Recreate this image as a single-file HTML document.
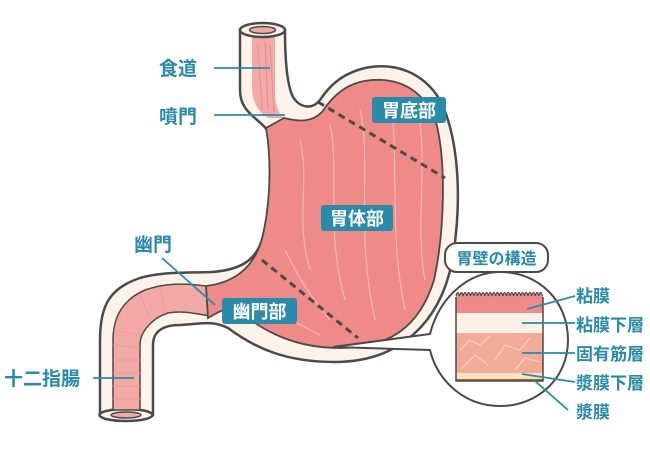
<!DOCTYPE html>
<html><head><meta charset="utf-8"><style>
html,body{margin:0;padding:0;background:#fff;width:650px;height:450px;overflow:hidden}
svg text{font-family:"Liberation Sans","Noto Sans CJK JP",sans-serif;font-weight:bold}
</style></head><body>
<svg width="650" height="450" viewBox="0 0 650 450" xmlns="http://www.w3.org/2000/svg">
<path d="M240,30 L240,90 C240,115 262,118 270,135 C278,155 272,200 262,240 C255,262 238,270 212,272 C180,273 160,272 140,278 C110,288 100,305 100,340 L100,415 L153,415 L153,345 C153,330 165,325 180,325 C200,324 212,320 228,328 C255,348 285,362 335,362 C400,362 440,322 452,262 C462,205 460,140 440,100 C423,72 395,62 365,68 C340,74 328,88 320,100 C312,110 300,108 293,97 C287,85 285,60 285,30 Z" fill="#fdf3ea" stroke="#4a4a4a" stroke-width="2.5"/>
<ellipse cx="126" cy="415" rx="26.5" ry="6" fill="#fdf3ea" stroke="#4a4a4a" stroke-width="2.5"/>
<ellipse cx="126" cy="415" rx="15" ry="3" fill="#f3a8a6" stroke="#4a4a4a" stroke-width="1.5"/>
<path d="M252,37 L275,37 L275,95 C276,110 280,115 284,118 L268,118 C258,112 252,100 252,88 Z" fill="#f2a9a8"/>
<g stroke="#e88a8c" stroke-width="1" fill="none"><path d="M258,45 L262,110"/><path d="M265,42 L268,110"/><path d="M270,45 L274,112"/></g>
<ellipse cx="262.5" cy="30" rx="22.5" ry="7" fill="#fdf3ea" stroke="#4a4a4a" stroke-width="2.5"/>
<ellipse cx="262.5" cy="30" rx="13" ry="3.5" fill="#f3a8a6" stroke="#4a4a4a" stroke-width="1.5"/>
<path d="M206,286 C185,283 165,283 145,290 C122,300 113,318 113,340 L113,410 L140,410 L140,345 C140,332 152,318 168,313 C185,310 200,315 212,316 Z" fill="#f3aaa7" stroke="#4a4a4a" stroke-width="1.5"/>
<g stroke="#ec9a9a" stroke-width="1" fill="none">
<path d="M114,330 L140,335"/><path d="M113,345 L140,348"/><path d="M113,360 L140,360"/><path d="M113,373 L140,373"/><path d="M113,386 L140,386"/><path d="M113,399 L140,399"/><path d="M140,295 L150,318"/><path d="M160,288 L165,312"/></g>
<path d="M284,118 C300,122 312,122 322,112 C334,94 348,82 372,80 C402,78 425,92 436,122 C446,160 445,230 434,280 C420,326 390,348 340,348 C295,348 265,332 240,312 C228,305 218,312 208,318 L206,286 C240,282 258,262 264,230 C272,190 270,150 266,128 Z" fill="#ee8a88" stroke="#4a4a4a" stroke-width="1.8"/>
<g stroke="#f7c2bf" stroke-width="1.2" fill="none" opacity="0.8">
<path d="M300,140 C310,180 295,220 310,270"/><path d="M330,125 C340,170 325,230 345,300"/><path d="M360,110 C372,160 355,230 375,320"/><path d="M390,100 C400,150 388,230 405,310"/><path d="M418,110 C428,160 415,230 425,280"/><path d="M285,250 C295,270 305,290 330,320"/><path d="M240,300 C270,305 290,320 320,335"/></g>
<path d="M318,102 L445,178" stroke="#4a4a4a" stroke-width="3" stroke-dasharray="7,5"/>
<path d="M262,260 L358,338" stroke="#4a4a4a" stroke-width="3" stroke-dasharray="7,5"/>
<rect x="372" y="97" width="74" height="26" rx="3" fill="#2a8aa9"/>
<text x="409" y="117" fill="#fff" font-size="18" text-anchor="middle">胃底部</text>
<rect x="321" y="205" width="72" height="26" rx="3" fill="#2a8aa9"/>
<text x="357" y="225" fill="#fff" font-size="18" text-anchor="middle">胃体部</text>
<rect x="222" y="298" width="75" height="26" rx="3" fill="#2a8aa9"/>
<text x="259.5" y="318" fill="#fff" font-size="18" text-anchor="middle">幽門部</text>
<g fill="#2a8aa9" font-size="19"><text x="159" y="75">食道</text><text x="159" y="123">噴門</text><text x="134" y="251">幽門</text><text x="4" y="385">十二指腸</text></g>
<g stroke="#2a8aa9" stroke-width="1.8"><path d="M214,68 L270,68"/><path d="M214,115 L285,115"/><path d="M162,258 L215,305"/><path d="M93,378 L134,378"/></g>
<path d="M430,334 C440,295 470,272 500,272 C540,272 568,302 568,340 C568,378 538,406 500,406 C465,406 438,382 430,350 L333,347 Z" fill="#fff" stroke="#4a4a4a" stroke-width="2"/>
<rect x="445" y="243" width="103" height="29" rx="12" fill="#fff" stroke="#4a4a4a" stroke-width="2"/>
<text x="496.5" y="264" fill="#2a8aa9" font-size="16" text-anchor="middle">胃壁の構造</text>
<rect x="456" y="296" width="87" height="18" fill="#ee8a8a"/>
<rect x="456" y="313" width="87" height="20" fill="#fdf0e6"/>
<rect x="456" y="333" width="87" height="40" fill="#f1ab98"/>
<g stroke="#fbd4c4" stroke-width="1" fill="none"><path d="M460,350 L470,340 L480,345 L490,336 M495,360 L505,345 L520,350 L530,338 M462,368 L475,355 L488,365 M515,370 L525,358 L540,362"/></g>
<rect x="456" y="373" width="87" height="6" fill="#fbe3bb"/>
<rect x="456" y="379" width="87" height="2" fill="#a8643c"/>
<path d="M456,297 L456,381 L543,381 L543,297" fill="none" stroke="#4a4a4a" stroke-width="1.5"/>
<path d="M456,296 q1.8,-7 3.6,0 q1.8,-7 3.6,0 q1.8,-7 3.6,0 q1.8,-7 3.6,0 q1.8,-7 3.6,0 q1.8,-7 3.6,0 q1.8,-7 3.6,0 q1.8,-7 3.6,0 q1.8,-7 3.6,0 q1.8,-7 3.6,0 q1.8,-7 3.6,0 q1.8,-7 3.6,0 q1.8,-7 3.6,0 q1.8,-7 3.6,0 q1.8,-7 3.6,0 q1.8,-7 3.6,0 q1.8,-7 3.6,0 q1.8,-7 3.6,0 q1.8,-7 3.6,0 q1.8,-7 3.6,0 q1.8,-7 3.6,0 q1.8,-7 3.6,0 q1.8,-7 3.6,0 q1.8,-7 3.6,0" fill="#ee8a8a" stroke="#4a4a4a" stroke-width="1.2"/>
<g stroke="#2a8aa9" stroke-width="1.8"><path d="M527,309 L575,296"/><path d="M522,323 L575,323"/><path d="M522,353 L575,353"/><path d="M522,374 L575,382"/><path d="M535,381 L568,410"/></g>
<g fill="#2a8aa9" font-size="17"><text x="576" y="302">粘膜</text><text x="576" y="331">粘膜下層</text><text x="576" y="360">固有筋層</text><text x="576" y="389">漿膜下層</text><text x="576" y="418">漿膜</text></g>
</svg>
</body></html>
